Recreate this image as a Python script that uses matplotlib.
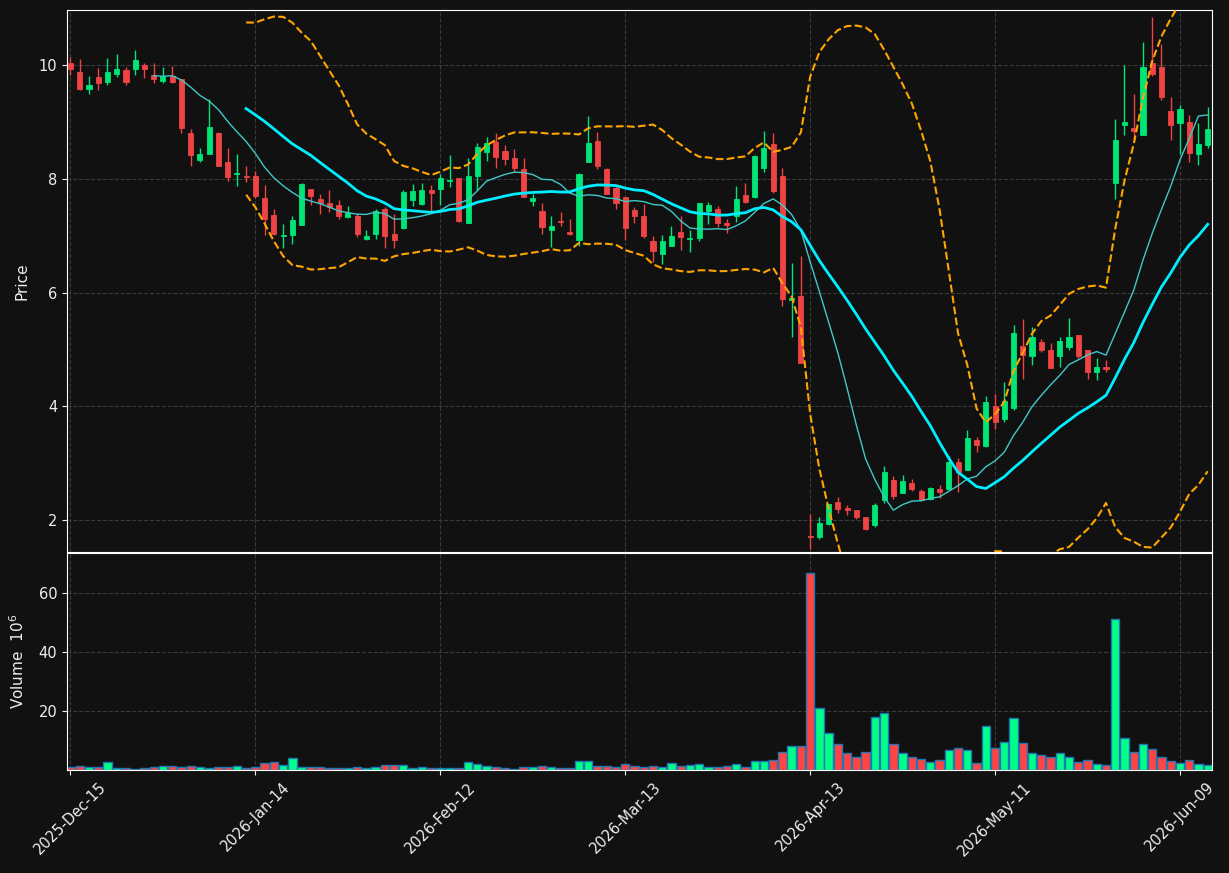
import matplotlib
matplotlib.use('Agg')
import matplotlib.pyplot as plt
import numpy as np
import pandas as pd

# trading calendar (NYSE days)
start_date = '2025-12-15'
end_date = '2026-06-12'
holidays = ['2025-12-25', '2026-01-01', '2026-01-19', '2026-02-16',
            '2026-04-03', '2026-05-25']

opens = [10.04, 9.88, 9.59, 9.80, 9.71, 9.85, 9.92, 9.94, 10.01, 9.83,
         9.73, 9.81, 9.75, 8.80, 8.34, 8.44, 8.81, 8.29, 8.08, 8.06,
         8.05, 7.67, 7.36, 7.00, 7.02, 7.19, 7.83, 7.64, 7.57, 7.54,
         7.33, 7.34, 6.95, 7.03, 7.47, 7.04, 7.14, 7.63, 7.56, 7.80,
         7.82, 7.97, 8.01, 7.23, 8.05, 8.47, 8.65, 8.50, 8.36, 8.17,
         7.61, 7.43, 7.10, 7.26, 7.06, 6.92, 8.30, 8.67, 8.18, 7.84,
         7.68, 7.46, 7.34, 6.90, 6.68, 6.82, 7.06, 6.95, 6.97, 7.44,
         7.48, 7.22, 7.34, 7.72, 7.69, 8.19, 8.62, 8.06, 5.88, 5.95,
         1.73, 1.71, 1.94, 2.32, 2.21, 2.18, 2.06, 1.92, 2.35, 2.71,
         2.48, 2.65, 2.51, 2.37, 2.55, 2.54, 3.02, 2.89, 3.41, 3.30,
         4.00, 3.78, 3.97, 5.06, 4.89, 5.13, 4.99, 4.88, 5.05, 5.25,
         4.99, 4.60, 4.69, 7.92, 8.94, 8.89, 8.78, 10.03, 9.97, 9.20,
         8.99, 9.01, 8.43, 8.60]
highs = [10.15, 10.11, 9.81, 9.95, 10.12, 10.19, 9.97, 10.26, 10.04, 10.03,
         9.96, 9.98, 9.75, 8.88, 8.54, 9.40, 8.83, 8.54, 8.44, 8.22,
         8.14, 7.89, 7.48, 7.20, 7.34, 7.92, 7.83, 7.74, 7.80, 7.63,
         7.53, 7.40, 7.11, 7.47, 7.50, 7.39, 7.80, 7.91, 7.93, 7.90,
         8.08, 8.42, 8.01, 8.36, 8.64, 8.73, 8.81, 8.60, 8.53, 8.36,
         7.74, 7.58, 7.35, 7.41, 7.30, 8.11, 9.10, 8.83, 8.20, 7.87,
         7.68, 7.51, 7.56, 6.99, 7.02, 7.18, 7.34, 7.10, 7.57, 7.59,
         7.53, 7.30, 7.88, 7.93, 8.42, 8.84, 8.80, 8.19, 6.52, 6.65,
         2.10, 2.06, 2.28, 2.40, 2.27, 2.18, 2.06, 2.31, 2.95, 2.78,
         2.80, 2.72, 2.54, 2.58, 2.62, 3.13, 3.09, 3.58, 3.46, 4.18,
         4.22, 4.43, 5.43, 5.54, 5.39, 5.18, 5.12, 5.22, 5.55, 5.25,
         4.99, 4.85, 4.81, 9.06, 10.00, 9.49, 10.40, 10.85, 10.37, 9.44,
         9.30, 9.12, 8.98, 9.26]
lows = [9.82, 9.57, 9.49, 9.56, 9.66, 9.80, 9.66, 9.82, 9.77, 9.68,
        9.68, 9.68, 8.80, 8.23, 8.29, 8.43, 8.22, 7.96, 7.87, 7.94,
        7.66, 7.02, 7.02, 6.78, 6.86, 7.19, 7.55, 7.39, 7.42, 7.30,
        7.32, 6.98, 6.93, 6.95, 6.79, 6.79, 7.12, 7.52, 7.55, 7.43,
        7.55, 7.86, 7.24, 7.22, 7.80, 8.32, 8.19, 8.25, 8.12, 7.68,
        7.53, 7.03, 6.80, 7.18, 7.01, 6.82, 8.29, 8.18, 7.73, 7.48,
        6.93, 7.22, 6.96, 6.54, 6.51, 6.82, 6.75, 6.71, 6.91, 7.21,
        7.15, 7.05, 7.24, 7.58, 7.66, 8.13, 7.75, 5.76, 5.22, 4.76,
        1.49, 1.67, 1.91, 2.12, 2.09, 2.02, 1.83, 1.88, 2.31, 2.37,
        2.47, 2.51, 2.34, 2.36, 2.39, 2.53, 2.50, 2.88, 3.19, 3.29,
        3.61, 3.73, 3.93, 4.49, 4.73, 4.95, 4.68, 4.69, 5.00, 4.85,
        4.49, 4.46, 4.60, 7.65, 8.78, 8.66, 8.77, 9.81, 9.38, 8.69,
        8.43, 8.29, 8.24, 8.55]
closes = [9.94, 9.59, 9.65, 9.68, 9.88, 9.94, 9.71, 10.09, 9.94, 9.75,
          9.81, 9.71, 8.89, 8.42, 8.44, 8.92, 8.22, 8.03, 8.11, 8.03,
          7.70, 7.30, 7.03, 7.02, 7.27, 7.91, 7.70, 7.58, 7.51, 7.35,
          7.40, 7.03, 6.99, 7.43, 7.00, 6.93, 7.77, 7.78, 7.80, 7.75,
          8.01, 7.99, 7.26, 8.05, 8.56, 8.64, 8.39, 8.35, 8.19, 7.68,
          7.66, 7.16, 7.18, 7.24, 7.03, 8.08, 8.64, 8.23, 7.74, 7.58,
          7.14, 7.34, 6.99, 6.74, 6.90, 6.99, 6.98, 6.97, 7.57, 7.55,
          7.22, 7.19, 7.65, 7.60, 8.41, 8.55, 7.78, 5.89, 5.91, 4.76,
          1.70, 1.95, 2.28, 2.19, 2.18, 2.06, 1.85, 2.27, 2.85, 2.42,
          2.69, 2.55, 2.36, 2.57, 2.49, 3.02, 2.85, 3.45, 3.32, 4.08,
          3.73, 4.09, 5.29, 4.91, 5.22, 5.00, 4.68, 5.15, 5.22, 4.89,
          4.60, 4.69, 4.66, 8.69, 9.01, 8.85, 9.97, 9.85, 9.44, 8.95,
          9.23, 8.46, 8.61, 8.88]
# volume in millions of shares
volumes = [1.0, 1.5, 1.0, 1.0, 2.7, 0.7, 0.7, 0.3, 0.7, 1.0,
           1.4, 1.4, 1.0, 1.4, 1.0, 0.7, 1.0, 1.0, 1.4, 0.7,
           1.0, 2.4, 2.7, 1.7, 4.1, 1.0, 1.0, 1.0, 0.7, 0.7,
           0.7, 1.0, 0.7, 1.0, 1.7, 1.7, 1.7, 0.7, 1.0, 0.7,
           0.7, 0.7, 0.7, 2.7, 2.0, 1.4, 1.0, 0.7, 0.3, 1.0,
           1.0, 1.4, 1.0, 0.7, 0.7, 3.1, 3.1, 1.4, 1.4, 1.0,
           2.0, 1.4, 1.0, 1.4, 1.0, 2.4, 1.4, 1.7, 2.0, 1.0,
           1.0, 1.4, 2.0, 1.0, 3.1, 3.1, 3.4, 6.1, 8.1, 8.1,
           66.8, 21.0, 12.5, 8.8, 5.8, 4.4, 6.1, 18.0, 19.3, 8.8,
           5.8, 4.4, 3.7, 2.7, 3.4, 6.8, 7.5, 6.8, 2.4, 14.9,
           7.5, 9.5, 17.6, 9.2, 5.8, 5.1, 4.4, 5.8, 4.4, 2.7,
           3.4, 2.0, 1.7, 51.2, 10.8, 6.1, 8.8, 7.1, 4.4, 3.1,
           2.4, 3.4, 2.0, 1.7]

dates = pd.bdate_range(start_date, end_date, freq='C', holidays=holidays)
df = pd.DataFrame({'Open': opens, 'High': highs, 'Low': lows,
                   'Close': closes, 'Volume': volumes}, index=dates)

# indicators
ma10 = df['Close'].rolling(10).mean()
ma20 = df['Close'].rolling(20).mean()
std20 = df['Close'].rolling(20).std()
bb_up = ma20 + 2 * std20
bb_lo = ma20 - 2 * std20

BG = '#111111'
UP = '#00e676'
DOWN = '#ef4444'
VUP = '#00ff88'
VDOWN = '#ff4444'
GRID = '#3a3a3a'
FG = '#eeeeee'

fig = plt.figure(figsize=(12.29, 8.73), dpi=100, facecolor=BG)
ax = fig.add_axes([0.0545, 0.3677, 0.9317, 0.6208])
axv = fig.add_axes([0.0545, 0.1180, 0.9317, 0.2486], sharex=ax)

x = np.arange(len(df))
o = df['Open'].values
c = df['Close'].values
up = c >= o
cols = np.where(up, UP, DOWN)
vcols = np.where(up, VUP, VDOWN)

# candles
ax.vlines(x, df['Low'], df['High'], colors=cols, lw=1, zorder=2)
ax.bar(x, np.abs(c - o), bottom=np.minimum(o, c), width=0.55,
       color=cols, edgecolor=cols, lw=0.6, zorder=3)

# moving averages + bollinger
ax.plot(x, ma10, color='#40c8c8', lw=1, zorder=4)
ax.plot(x, ma20, color='#00eeff', lw=2, zorder=4)
ax.plot(x, bb_up, color='#ffa500', lw=1.5, ls='--', zorder=4)
ax.plot(x, bb_lo, color='#ffa500', lw=1.5, ls='--', zorder=4)

# volume
axv.bar(x, df['Volume'], width=0.9, color=vcols, edgecolor='#1f77b4', lw=1)

vmin, vmax = min(volumes), max(volumes)
axv.set_ylim(0.3 * vmin, 1.1 * vmax)
ax.set_ylim(1.44, 10.97)
ax.set_xlim(-0.38, 123.47)

for a in (ax, axv):
    a.set_facecolor(BG)
    a.grid(True, ls='--', color=GRID, lw=0.8)
    a.set_axisbelow(True)
    for s in a.spines.values():
        s.set_color('white')
    a.tick_params(colors=FG, labelsize=10.5)

ax.set_yticks([2, 4, 6, 8, 10])
axv.set_yticks([20, 40, 60])
ax.tick_params(axis='x', bottom=False, labelbottom=False)

tick_idx = list(range(0, len(df), 20))
axv.set_xticks(tick_idx)
axv.set_xticklabels([dates[i].strftime('%Y-%b-%d') for i in tick_idx],
                    rotation=45, ha='center')

ax.set_ylabel('Price', color=FG, fontsize=11)
axv.set_ylabel('Volume  $10^{6}$', color=FG, fontsize=11)
ax.yaxis.set_label_coords(-0.033, 0.5)
axv.yaxis.set_label_coords(-0.035, 0.5)

plt.savefig('out.png', dpi=100, facecolor=BG)
